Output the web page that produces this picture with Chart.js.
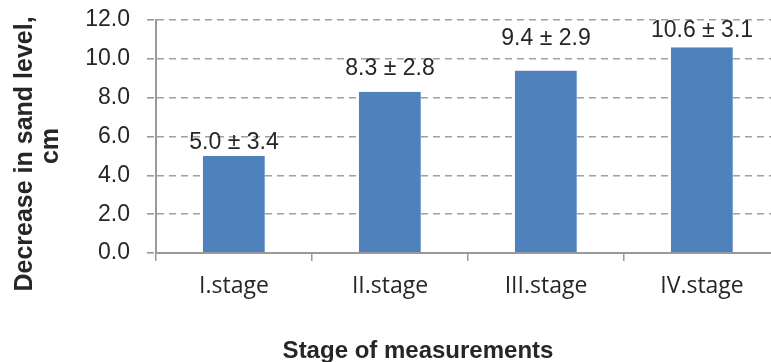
<!DOCTYPE html>
<html>
<head>
<meta charset="utf-8">
<script src="https://cdn.jsdelivr.net/npm/chart.js@4/dist/chart.umd.min.js"></script>
<style>
  html, body { margin: 0; padding: 0; background: #fff; overflow: hidden; }
  #wrap { width: 790px; height: 362px; }
</style>
</head>
<body>
<div id="wrap"><canvas id="sand_chart" width="790" height="362"></canvas></div>
<script>
'use strict';

// stages and measured decrease (mean ± sd)
const stages = ['I.stage', 'II.stage', 'III.stage', 'IV.stage'];
const meanDecrease = [5.0, 8.3, 9.4, 10.6];
const sdDecrease = [3.4, 2.8, 2.9, 3.1];
const yTickLabels = ['0.0', '2.0', '4.0', '6.0', '8.0', '10.0', '12.0'];

const textColor = '#262626';
const axisGray = '#9a9a9a';

// labels above bars, lifted by hand like in the original
const labelLift = [7, 17, 25, 10];

const valueLabels = {
  id: 'valueLabels',
  afterDatasetsDraw(chart) {
    const ctx = chart.ctx;
    const bars = chart.getDatasetMeta(0).data;
    ctx.save();
    ctx.font = '23px "Liberation Sans", Arial, sans-serif';
    ctx.fillStyle = textColor;
    ctx.textAlign = 'center';
    ctx.textBaseline = 'alphabetic';
    bars.forEach((bar, i) => {
      let txt = meanDecrease[i].toFixed(1) + ' \u00b1 ' + sdDecrease[i].toFixed(1);
      ctx.fillText(txt, bar.x, bar.y - labelLift[i]);
    });
    ctx.restore();
  }
};

// axis titles
const axisTitles = {
  id: 'axisTitles',
  afterDraw(chart) {
    const ctx = chart.ctx;
    ctx.save();
    ctx.fillStyle = textColor;
    ctx.textAlign = 'center';
    ctx.textBaseline = 'alphabetic';
    ctx.font = 'bold 24px "Liberation Sans", Arial, sans-serif';
    ctx.fillText('Stage of measurements', 418, 358);

    ctx.font = 'bold 25px "Liberation Sans", Arial, sans-serif';
    ctx.translate(32, 154);
    ctx.rotate(-Math.PI / 2);
    ctx.fillText('Decrease in sand level,', 0, 0);
    ctx.fillText('cm', 8, 26);
    ctx.restore();
  }
};

let ctxSand = document.getElementById('sand_chart').getContext('2d');

new Chart(ctxSand, {
  type: 'bar',
  data: {
    labels: stages,
    datasets: [{
      data: meanDecrease,
      backgroundColor: '#4f81bd',
      borderColor: '#6f9bd3',
      borderWidth: { left: 0, top: 0, bottom: 0, right: 1 },
      categoryPercentage: 1.0,
      barPercentage: 0.4
    }]
  },
  options: {
    responsive: false,
    animation: false,
    layout: {
      padding: { left: 0, right: 10, top: 20, bottom: 0 }
    },
    plugins: {
      legend: { display: false },
      tooltip: { enabled: false }
    },
    scales: {
      x: {
        offset: true,
        grid: {
          display: true,
          offset: true,
          drawOnChartArea: false,
          tickLength: 8,
          color: axisGray,
          lineWidth: 1.5
        },
        border: { display: true, color: axisGray, width: 2 },
        ticks: {
          color: textColor,
          padding: 12,
          font: { family: '"Open Sans", sans-serif', size: 23 }
        },
        afterFit(scale) { scale.height = 109; }
      },
      y: {
        min: 0,
        max: 12,
        ticks: {
          stepSize: 2,
          color: textColor,
          padding: 17,
          font: { family: '"Liberation Sans", Arial, sans-serif', size: 23 },
          callback: (v, i) => yTickLabels[i]
        },
        grid: {
          color: '#a0a0a0',
          lineWidth: 1.6,
          tickLength: 9,
          tickColor: axisGray,
          tickBorderDash: [7, 5]
        },
        border: { display: true, color: axisGray, width: 2, dash: [7, 5] },
        afterFit(scale) {
          scale.width = 156;
          scale.paddingTop = 0;
          scale.paddingBottom = 0;
        }
      }
    }
  },
  plugins: [valueLabels, axisTitles]
});
</script>
</body>
</html>
